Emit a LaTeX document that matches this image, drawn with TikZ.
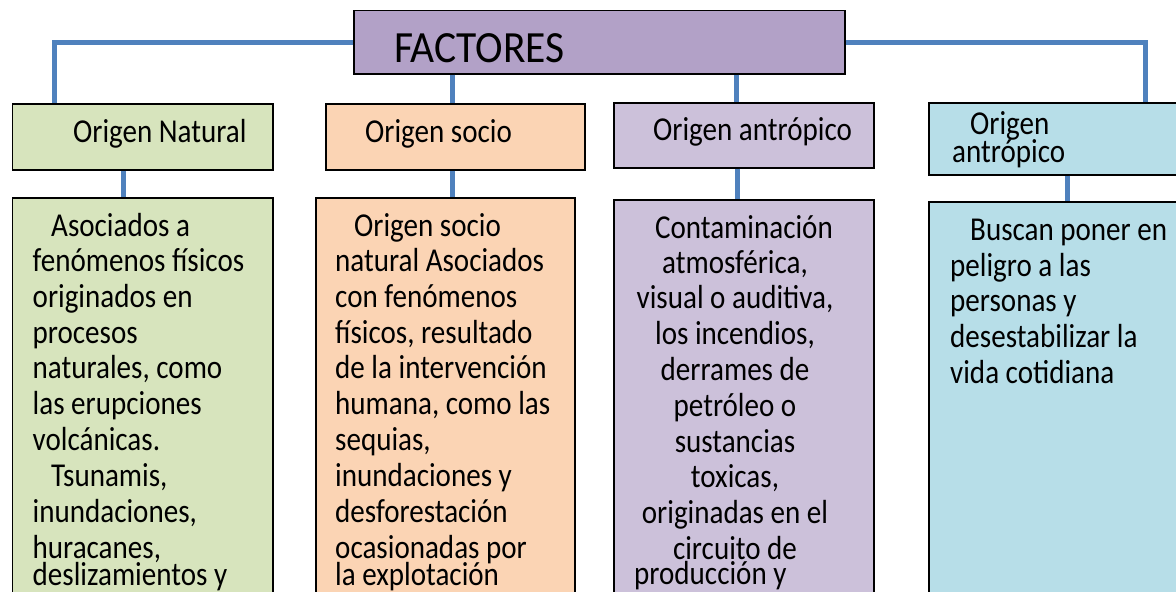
\documentclass[tikz,border=0pt]{standalone}
\usepackage{fontspec}
\setmainfont{Carlito}[FakeStretch=0.87]
\newfontfamily\facfont{Carlito}[FakeStretch=0.93]
\definecolor{facfill}{HTML}{B2A1C7}
\definecolor{grfill}{HTML}{D7E4BD}
\definecolor{orfill}{HTML}{FBD4B4}
\definecolor{pufill}{HTML}{CCC1DA}
\definecolor{blfill}{HTML}{B7DEE8}
\definecolor{conblue}{HTML}{4F81BD}
\tikzset{
  boxa/.style={draw=black, line width=1.5pt, inner sep=0pt, anchor=north west},
  conn/.style={draw=conblue, line width=5pt, line join=miter},
  bt/.style={font=\fontsize{33.4}{35.8}\selectfont, inner sep=0pt, anchor=base west},
  btc/.style={font=\fontsize{33.4}{35.8}\selectfont, inner sep=0pt, anchor=base},
}
\begin{document}
\begin{tikzpicture}[x=1pt,y=-1pt]
\useasboundingbox (0,0) rectangle (1176,592);
\clip (0,0) rectangle (1176,592);

% top box
\node[boxa, fill=facfill, minimum width=491pt, minimum height=63.5pt] (fac) at (353,9.5) {};
\node[anchor=base west, inner sep=0pt, font=\facfont\fontsize{44.6}{50}\selectfont] (factxt) at (394,62) {FACTORES};

% header boxes
\node[boxa, fill=grfill, minimum width=260.5pt, minimum height=66pt] (gh) at (11.5,103) {};
\node[boxa, fill=orfill, minimum width=259pt, minimum height=66pt] (oh) at (325,103) {};
\node[boxa, fill=pufill, minimum width=260pt, minimum height=65pt] (ph) at (613,102) {};
\node[boxa, fill=blfill, minimum width=300pt, minimum height=72pt] (bh) at (928,102) {};

% body boxes
\node[boxa, fill=grfill, minimum width=260.5pt, minimum height=430pt] (gb) at (11.5,197) {};
\node[boxa, fill=orfill, minimum width=259pt, minimum height=430pt] (ob) at (315,197) {};
\node[boxa, fill=pufill, minimum width=260pt, minimum height=430pt] (pb) at (613,199) {};
\node[boxa, fill=blfill, minimum width=300pt, minimum height=430pt] (bb) at (928,201) {};

% connector x positions
\coordinate (xl) at (54,0);
\coordinate (xo) at (452,0);
\coordinate (xp) at (736,0);
\coordinate (xr) at (1145,0);
\coordinate (xg2) at (123,0);
\coordinate (xo2) at (452,0);
\coordinate (xp2) at (737,0);
\coordinate (xb2) at (1067,0);

% connectors
\draw[conn] (fac.west) -| (gh.north -| xl);
\draw[conn] (fac.east) -| (bh.north -| xr);
\draw[conn] (fac.south -| xo) -- (oh.north -| xo);
\draw[conn] (fac.south -| xp) -- (ph.north -| xp);
\draw[conn] (gh.south -| xg2) -- (gb.north -| xg2);
\draw[conn] (oh.south -| xo2) -- (ob.north -| xo2);
\draw[conn] (ph.south -| xp2) -- (pb.north -| xp2);
\draw[conn] (bh.south -| xb2) -- (bb.north -| xb2);

% header texts
\node[bt] (ght) at (73,142) {Origen Natural};
\node[bt] (oht) at (365,142) {Origen socio};
\node[bt] (pht) at (653,140) {Origen antrópico};
\node[bt] (bht1) at (970,134) {Origen};
\node[bt] (bht2) at (952,162) {antrópico};

% green body text
\node[bt] (g1) at (51,236) {Asociados a};
\node[bt] (g2) at (32.5,271) {fenómenos físicos};
\node[bt] (g3) at (32.5,307) {originados en};
\node[bt] (g4) at (32.5,343) {procesos};
\node[bt] (g5) at (32.5,378) {naturales, como};
\node[bt] (g6) at (32.5,414) {las erupciones};
\node[bt] (g7) at (32.5,450) {volcánicas.};
\node[bt] (g8) at (51,486) {Tsunamis,};
\node[bt] (g9) at (32.5,522) {inundaciones,};
\node[bt] (g10) at (32.5,558) {huracanes,};
\node[bt] (g11) at (32.5,585) {deslizamientos y};

% orange body text
\node[bt] (o1) at (354,236) {Origen socio};
\node[bt] (o2) at (335,271) {natural Asociados};
\node[bt] (o3) at (335,307) {con fenómenos};
\node[bt] (o4) at (335,343) {físicos, resultado};
\node[bt] (o5) at (335,378) {de la intervención};
\node[bt] (o6) at (335,414) {humana, como las};
\node[bt] (o7) at (335,450) {sequias,};
\node[bt] (o8) at (335,486) {inundaciones y};
\node[bt] (o9) at (335,522) {desforestación};
\node[bt] (o10) at (335,558) {ocasionadas por};
\node[bt] (o11) at (335,585) {la explotación};

% purple body text
\node[btc] (p1) at (744,238) {Contaminación};
\node[btc] (p2) at (735,273) {atmosférica,};
\node[btc] (p3) at (735,308) {visual o auditiva,};
\node[btc] (p4) at (735,344) {los incendios,};
\node[btc] (p5) at (735,380) {derrames de};
\node[btc] (p6) at (735,416) {petróleo o};
\node[btc] (p7) at (735,452) {sustancias};
\node[btc] (p8) at (735,487) {toxicas,};
\node[btc] (p9) at (735,523) {originadas en el};
\node[btc] (p10) at (735,559) {circuito de};
\node[bt] (p11) at (634,584) {producción y};

% blue body text
\node[bt] (b1) at (970,240) {Buscan poner en};
\node[bt] (b2) at (950,276) {peligro a las};
\node[bt] (b3) at (950,311) {personas y};
\node[bt] (b4) at (950,347) {desestabilizar la};
\node[bt] (b5) at (950,383) {vida cotidiana};
\end{tikzpicture}
\end{document}
